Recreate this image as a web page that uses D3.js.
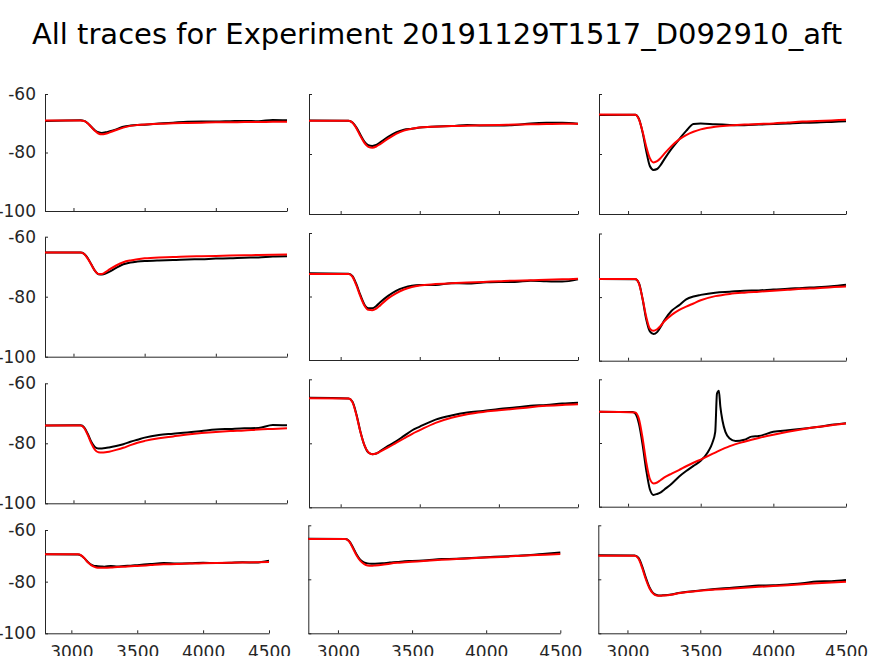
<!DOCTYPE html>
<html>
<head>
<meta charset="utf-8">
<script src="https://cdn.jsdelivr.net/npm/d3@7"></script>
<style>
  body { margin: 0; background: #fff; }
  svg { display: block; font-family: "DejaVu Sans", sans-serif; }
</style>
</head>
<body>
<div id="chart"></div>
<script>
// time points (ms) shared by the traces
const timesMs = [2800, 3050, 3075, 3100, 3125, 3150, 3175, 3200, 3225, 3250, 3300, 3350, 3400, 3450, 3500, 3600, 3700, 3800, 3900, 4000, 4100, 4200, 4300, 4400, 4500];
// denser time points for the trace with the spike
const spikeTimesMs = [2800, 3030, 3050, 3075, 3100, 3125, 3150, 3175, 3200, 3225, 3250, 3300, 3350, 3400, 3450, 3500, 3550, 3580, 3600, 3612, 3625, 3635, 3650, 3670, 3700, 3740, 3800, 3850, 3900, 4000, 4100, 4200, 4300, 4400, 4500];

const xTicks = [3000, 3500, 4000, 4500];
const xTickLabels = ["3000", "3500", "4000", "4500"];
const yTicks = [-60, -80, -100];
const yTickLabels = ["-60", "-80", "-100"];

// row 1
const traceR1C1 = [-69.2, -69.0, -69.2, -70.0, -71.2, -72.4, -73.1, -73.3, -73.1, -72.8, -72.1, -71.2, -70.8, -70.6, -70.5, -70.1, -69.8, -69.5, -69.4, -69.4, -69.3, -69.2, -69.3, -68.9, -69.0];
const fitR1C1 = [-69.1, -69.1, -69.2, -70.0, -71.3, -72.6, -73.5, -73.8, -73.6, -73.2, -72.3, -71.5, -70.9, -70.6, -70.4, -70.2, -70.0, -69.9, -69.8, -69.7, -69.7, -69.6, -69.6, -69.5, -69.5];
const traceR1C2 = [-68.8, -68.9, -69.5, -71.2, -73.6, -75.9, -77.1, -77.3, -77.0, -76.1, -74.3, -72.8, -71.9, -71.6, -71.2, -70.8, -70.7, -70.3, -70.5, -70.5, -70.3, -69.8, -69.6, -69.6, -69.9];
const fitR1C2 = [-68.9, -68.9, -69.6, -71.5, -74.0, -76.3, -77.6, -77.9, -77.5, -76.7, -74.9, -73.3, -72.2, -71.6, -71.2, -70.9, -70.7, -70.6, -70.4, -70.3, -70.2, -70.1, -70.0, -69.9, -69.9];
const traceR1C3 = [-67.0, -66.9, -68.3, -72.8, -79.0, -84.0, -85.3, -85.0, -83.6, -81.7, -78.2, -75.2, -72.3, -70.0, -69.8, -70.1, -70.3, -70.4, -70.2, -70.0, -69.8, -69.6, -69.5, -69.3, -69.1];
const fitR1C3 = [-66.8, -66.9, -68.5, -72.5, -77.5, -81.4, -82.8, -82.4, -81.3, -79.9, -77.3, -75.2, -73.7, -72.6, -71.8, -70.9, -70.5, -70.2, -70.0, -69.8, -69.5, -69.2, -69.0, -68.8, -68.6];

// row 2
const traceR2C1 = [-65.3, -65.3, -65.7, -67.1, -69.2, -71.3, -72.5, -72.6, -72.3, -71.7, -70.4, -69.2, -68.6, -68.3, -68.1, -67.9, -67.8, -67.6, -67.5, -67.3, -67.2, -67.0, -66.9, -66.6, -66.5];
const fitR2C1 = [-65.3, -65.3, -65.8, -67.3, -69.3, -71.3, -72.4, -72.4, -71.8, -71.0, -69.6, -68.5, -67.9, -67.5, -67.2, -66.9, -66.8, -66.6, -66.5, -66.4, -66.3, -66.2, -66.1, -66.0, -65.9];
const traceR2C2 = [-72.7, -72.8, -73.6, -76.2, -79.6, -82.5, -83.7, -83.7, -83.0, -81.8, -79.8, -78.2, -77.2, -76.6, -76.4, -76.4, -75.8, -75.9, -75.6, -75.4, -75.4, -75.0, -75.2, -75.3, -74.6];
const fitR2C2 = [-72.9, -72.9, -73.8, -76.6, -80.0, -82.8, -84.2, -84.3, -83.8, -82.8, -80.6, -79.0, -77.8, -77.0, -76.5, -76.1, -75.8, -75.6, -75.4, -75.2, -75.0, -74.9, -74.7, -74.6, -74.4];
const traceR2C3 = [-74.3, -74.4, -75.6, -80.6, -87.0, -90.8, -91.6, -91.0, -89.3, -87.3, -84.3, -82.6, -80.7, -79.8, -79.3, -78.6, -78.3, -78.0, -77.9, -77.6, -77.4, -77.1, -76.9, -76.6, -76.1];
const fitR2C3 = [-74.3, -74.3, -75.8, -80.5, -86.2, -89.9, -90.6, -90.1, -89.0, -87.6, -85.6, -84.1, -83.0, -82.0, -81.0, -79.7, -79.0, -78.6, -78.3, -78.0, -77.7, -77.4, -77.2, -76.9, -76.7];

// row 3
const traceR3C1 = [-74.1, -74.0, -74.7, -76.8, -79.5, -81.2, -81.7, -81.7, -81.6, -81.4, -80.9, -80.3, -79.5, -78.8, -78.1, -77.2, -76.8, -76.4, -75.9, -75.4, -75.2, -75.0, -74.9, -73.9, -74.0];
const fitR3C1 = [-74.1, -74.1, -74.9, -77.2, -80.0, -82.1, -83.0, -83.1, -83.0, -82.8, -82.2, -81.5, -80.6, -79.8, -79.2, -78.3, -77.7, -77.1, -76.6, -76.2, -75.9, -75.7, -75.4, -75.2, -75.0];
const traceR3C2 = [-65.8, -66.0, -67.0, -71.0, -76.4, -80.6, -82.9, -83.4, -83.2, -82.4, -80.8, -79.4, -77.7, -76.0, -74.8, -72.6, -71.3, -70.4, -69.9, -69.3, -68.8, -68.3, -68.0, -67.6, -67.3];
const fitR3C2 = [-65.9, -66.0, -67.2, -71.3, -76.5, -80.6, -82.8, -83.4, -83.2, -82.6, -81.3, -79.9, -78.5, -77.1, -75.9, -73.6, -72.0, -70.9, -70.2, -69.7, -69.2, -68.7, -68.3, -68.0, -67.8];
const traceR3C3 = [-70.2, -70.3, -70.8, -74.0, -80.5, -88.5, -94.5, -96.3, -96.0, -95.5, -94.6, -92.8, -90.6, -88.8, -87.2, -85.6, -82.8, -80.0, -76.5, -64.5, -63.6, -68.5, -73.0, -76.5, -78.6, -79.4, -79.0, -78.0, -77.8, -76.5, -76.0, -75.5, -75.0, -74.3, -73.8];
const fitR3C3 = [-70.2, -70.4, -72.5, -78.5, -86.0, -91.3, -92.7, -92.4, -91.6, -90.8, -89.6, -88.5, -87.3, -86.2, -85.2, -83.0, -81.0, -79.6, -78.4, -77.4, -76.5, -75.7, -75.0, -74.4, -73.9];

// row 4
const traceR4C1 = [-69.4, -69.5, -69.9, -71.0, -72.4, -73.4, -73.9, -74.0, -74.1, -74.2, -73.9, -74.1, -73.9, -73.8, -73.6, -73.2, -72.8, -73.0, -72.9, -72.7, -72.8, -72.7, -72.5, -72.6, -71.9];
const fitR4C1 = [-69.4, -69.4, -69.8, -71.0, -72.5, -73.6, -74.3, -74.6, -74.6, -74.6, -74.5, -74.3, -74.2, -74.0, -73.9, -73.6, -73.3, -73.2, -73.0, -72.9, -72.8, -72.7, -72.6, -72.5, -72.4];
const traceR4C2 = [-65.0, -65.1, -65.8, -68.0, -70.7, -72.7, -73.7, -74.1, -74.2, -74.2, -74.1, -73.8, -73.6, -73.3, -73.2, -72.9, -72.5, -72.4, -72.1, -71.8, -71.6, -71.3, -71.0, -70.5, -70.1];
const fitR4C2 = [-65.1, -65.1, -65.9, -68.4, -71.1, -73.1, -74.3, -74.9, -75.0, -74.9, -74.6, -74.2, -73.9, -73.7, -73.5, -73.1, -72.8, -72.5, -72.2, -71.9, -71.7, -71.4, -71.1, -70.9, -70.6];
const traceR4C3 = [-71.1, -71.2, -72.0, -75.0, -79.2, -82.8, -85.0, -85.8, -86.0, -85.9, -85.6, -85.1, -84.7, -84.4, -84.1, -83.6, -83.2, -82.8, -82.3, -82.2, -81.9, -81.5, -80.8, -80.7, -80.3];
const fitR4C3 = [-71.3, -71.3, -72.3, -75.6, -79.8, -83.2, -85.2, -86.0, -86.1, -86.0, -85.7, -85.2, -84.8, -84.5, -84.2, -83.8, -83.5, -83.1, -82.8, -82.5, -82.2, -81.8, -81.5, -81.2, -80.9];

const panels = [
  { trace: traceR1C1, traceTimes: timesMs, fit: fitR1C1 },
  { trace: traceR1C2, traceTimes: timesMs, fit: fitR1C2 },
  { trace: traceR1C3, traceTimes: timesMs, fit: fitR1C3 },
  { trace: traceR2C1, traceTimes: timesMs, fit: fitR2C1 },
  { trace: traceR2C2, traceTimes: timesMs, fit: fitR2C2 },
  { trace: traceR2C3, traceTimes: timesMs, fit: fitR2C3 },
  { trace: traceR3C1, traceTimes: timesMs, fit: fitR3C1 },
  { trace: traceR3C2, traceTimes: timesMs, fit: fitR3C2 },
  { trace: traceR3C3, traceTimes: spikeTimesMs, fit: fitR3C3 },
  { trace: traceR4C1, traceTimes: timesMs, fit: fitR4C1 },
  { trace: traceR4C2, traceTimes: timesMs, fit: fitR4C2 },
  { trace: traceR4C3, traceTimes: timesMs, fit: fitR4C3 }
];

// axes boxes in pixels: left, right, top (-60), bottom (-100)
const panelBoxes = [
  [45, 287, 94, 211], [309, 578, 94, 214], [599, 846, 94, 214],
  [45, 287, 236.7, 356.7], [309, 578, 233, 360], [599, 846, 233.5, 360.7],
  [45, 287, 383.3, 503.3], [309, 578, 379.3, 507.3], [599, 846, 379.3, 506.7],
  [45, 269, 530, 633.3], [308.3, 560.3, 525.3, 633.3], [598.3, 846, 525.3, 633.3]
];

const width = 874, height = 656;
const axisColor = "#262626";

const svg = d3.select("#chart").append("svg")
  .attr("width", width)
  .attr("height", height);

svg.append("text")
  .attr("x", width / 2)
  .attr("y", 44)
  .attr("text-anchor", "middle")
  .style("font-size", "29px")
  .style("fill", "#000")
  .text("All traces for Experiment 20191129T1517_D092910_aft");

panels.forEach(function (p, i) {
  const row = Math.floor(i / 3), col = i % 3;
  const [left, right, top, bottom] = panelBoxes[i];

  const x = d3.scaleLinear().domain([2800, 4500]).range([left, right]);
  const y = d3.scaleLinear().domain([-100, -60]).range([bottom, top]);

  const g = svg.append("g");

  // x axis (ticks point inward)
  const xAxis = d3.axisBottom(x)
    .tickValues(xTicks)
    .tickSizeInner(-3)
    .tickSizeOuter(0)
    .tickPadding(13)
    .tickFormat((d, k) => row === 3 ? xTickLabels[k] : "");
  g.append("g")
    .attr("transform", `translate(0,${bottom})`)
    .call(xAxis);

  // y axis
  const yAxis = d3.axisLeft(y)
    .tickValues(yTicks)
    .tickSizeInner(-3)
    .tickSizeOuter(0)
    .tickPadding(9)
    .tickFormat((d, k) => col === 0 ? yTickLabels[k] : "");
  g.append("g")
    .attr("transform", `translate(${left},0)`)
    .call(yAxis);

  g.selectAll(".domain, .tick line").attr("stroke", axisColor);
  g.selectAll(".tick text")
    .style("font-size", "17px")
    .style("font-family", "'DejaVu Sans', sans-serif")
    .attr("fill", axisColor);

  // recorded trace (black) then fitted trace (red)
  const line = d3.line().curve(d3.curveMonotoneX);

  g.append("path")
    .attr("d", line(p.trace.map((v, k) => [x(p.traceTimes[k]), y(v)])))
    .attr("fill", "none")
    .attr("stroke", "#000")
    .attr("stroke-width", 2);

  g.append("path")
    .attr("d", line(p.fit.map((v, k) => [x(timesMs[k]), y(v)])))
    .attr("fill", "none")
    .attr("stroke", "#ff0000")
    .attr("stroke-width", 2);
});
</script>
</body>
</html>
